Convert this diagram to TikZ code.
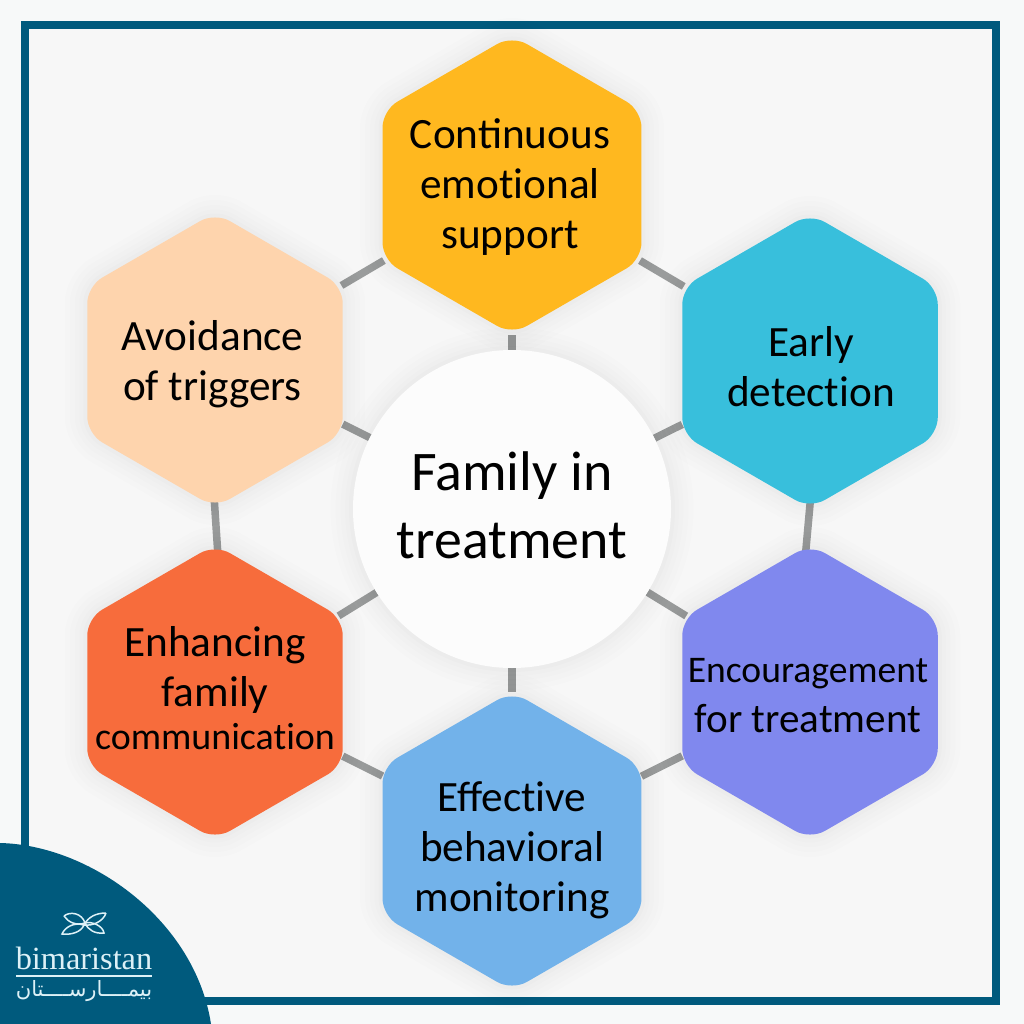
\documentclass[tikz,border=0pt]{standalone}
\usepackage{fontspec}
\usetikzlibrary{shapes.geometric, backgrounds}
\newfontfamily\labelfont{Carlito}
\newfontfamily\logofont{Liberation Serif}
\newfontfamily\arabicfont[Script=Arabic]{DejaVu Sans}
\TeXXeTstate=1

\definecolor{framecol}{HTML}{005A7D}
\definecolor{pagecol}{HTML}{F7F7F7}
\definecolor{outercol}{HTML}{F7F9F9}
\definecolor{linkcol}{HTML}{9A9C9C}
\definecolor{logocol}{HTML}{DDF1F7}

\begin{document}
\begin{tikzpicture}[
    x=0.1mm,
    y=-0.1mm,
    softshadow/.style={
        preaction={draw=black, draw opacity=0.006, line width=4.5mm},
        preaction={draw=black, draw opacity=0.006, line width=3.5mm},
        preaction={draw=black, draw opacity=0.007, line width=2.5mm},
        preaction={draw=black, draw opacity=0.008, line width=1.6mm},
        preaction={draw=black, draw opacity=0.01, line width=0.8mm}
    },
    hexbox/.style={
        shape=regular polygon,
        regular polygon sides=6,
        shape border rotate=90,
        minimum size=29.5mm,
        inner sep=0pt,
        outer sep=0pt,
        rounded corners=1.7mm,
        softshadow
    },
    hexlabel/.style={
        align=center,
        inner sep=0pt,
        font=\labelfont\fontsize{12.3}{14.2}\selectfont
    },
    link/.style={
        draw=linkcol,
        line width=0.75mm
    }
]
    \useasboundingbox (0,0) rectangle (1024,1024);

    % Nodes
    \node[hexbox, minimum size=29.9mm, fill={rgb,255:red,255;green,184;blue,31}] (support) at (512,185) {};
    \node[hexbox, fill={rgb,255:red,56;green,191;blue,220}] (detection) at (810,361) {};
    \node[hexbox, fill={rgb,255:red,128;green,136;blue,238}] (encourage) at (810,692) {};
    \node[hexbox, minimum size=29.9mm, fill={rgb,255:red,114;green,178;blue,234}] (monitoring) at (512,841) {};
    \node[hexbox, fill={rgb,255:red,247;green,108;blue,60}] (communication) at (215,692) {};
    \node[hexbox, fill={rgb,255:red,254;green,212;blue,173}] (triggers) at (215,360) {};

    \node[circle, fill=white!60!pagecol, minimum size=31.8mm, inner sep=0pt, outer sep=0pt, softshadow] (family) at (512,509) {};

    % Labels
    \node[hexlabel, xshift=-0.2mm, yshift=-0.2mm] (supporttext) at (support) {Continuous\\emot\kern0pt ional\\support};
    \node[hexlabel, xshift=0.1mm, yshift=-0.6mm] (detectiontext) at (detection) {Early\\detect\kern0pt ion};
    \node[hexlabel, xshift=-0.2mm, yshift=-0.4mm] (encouragetext) at (encourage)
    {{\fontsize{10.7}{14}\selectfont Encouragement}\\{\fontsize{11.7}{14}\selectfont for treatment}};
    \node[hexlabel, yshift=-0.9mm] (monitoringtext) at (monitoring) {Effect\kern0pt ive\\behavioral\\monitoring};
    \node[hexlabel, yshift=0.35mm] (communicationtext) at (communication)
    {Enhancing\\family\\[-0.7mm]{\fontsize{10.8}{14}\selectfont communicat\kern0pt ion}};
    \node[hexlabel, xshift=-0.25mm, yshift=-0.4mm] (triggerstext) at (triggers) {Avoidance\\of triggers};
    \node[hexlabel, yshift=0.4mm, font=\labelfont\fontsize{15.9}{19.3}\selectfont] (familytext) at (family) {Family in\\treatment};

    % Page, frame and links
    \begin{pgfonlayer}{background}
        \fill[outercol] (0,0) rectangle (1024,1024);
        \fill[pagecol] (25,25) rectangle (996,1001);
        \draw[framecol, line width=0.85mm] (25,25) rectangle (996,1001);

        \draw[link] (support) -- (detection);
        \draw[link] ([xshift=1.3mm]detection.center) -- ([xshift=-1.7mm]encourage.center);
        \draw[link] (encourage) -- (monitoring);
        \draw[link] (monitoring) -- (communication);
        \draw[link] ([xshift=-1mm]triggers.center) -- ([xshift=1.2mm]communication.center);
        \draw[link] (triggers) -- (support);

        \draw[link] (family) -- (support);
        \draw[link] (family) -- (detection);
        \draw[link] (family) -- (encourage);
        \draw[link] (family) -- (monitoring);
        \draw[link] (family) -- (communication);
        \draw[link] (family) -- (triggers);
    \end{pgfonlayer}

    % Logo corner
    \fill[framecol] (0,843) .. controls (90,845) and (195,920) .. (211,1024) -- (0,1024) -- cycle;
    \begin{scope}[logocol, line width=0.15mm]
        \draw (64,916) .. controls (70,911) and (82,913) .. (85,923) .. controls (76,926) and (68,922) .. (64,916);
        \draw (85,923) .. controls (92,921) and (103,926) .. (104,933) .. controls (95,934) and (88,930) .. (85,923);
        \draw (106,913) .. controls (96,913) and (88,917) .. (84,925) .. controls (92,926) and (103,922) .. (106,913);
        \draw (84,925) .. controls (74,922) and (65,927) .. (62,934) .. controls (72,935) and (81,932) .. (84,925);
    \end{scope}
    \node[text=logocol, inner sep=0pt, font=\logofont\fontsize{9.2}{11}\selectfont] (logoname) at (84,958) {bimaristan};
    \coordinate (rulestart) at (16,976);
    \coordinate (ruleend) at (152,976);
    \draw[logocol, line width=0.15mm] (rulestart) -- (ruleend);
    \node[text=logocol, inner sep=0pt, font=\fontsize{6}{8}\selectfont] (logoarabic) at (84,991)
    {\arabicfont\beginR بيمــــارســــتان\endR};
\end{tikzpicture}
\end{document}
